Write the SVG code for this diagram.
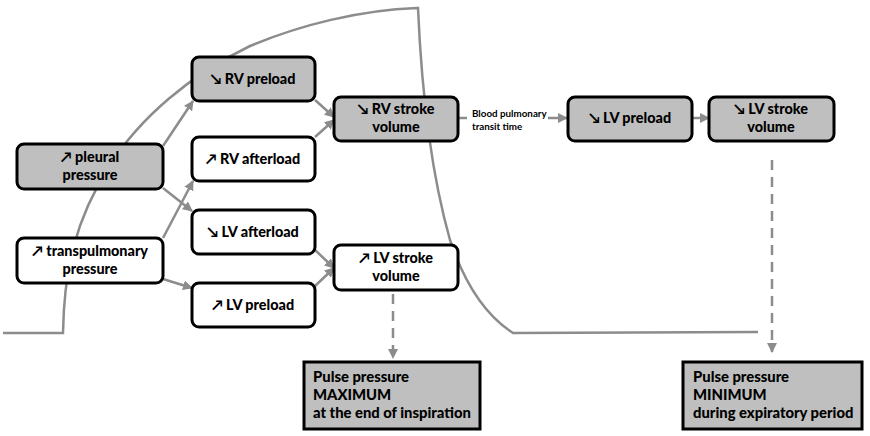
<svg xmlns="http://www.w3.org/2000/svg" width="870" height="436" viewBox="0 0 870 436">
<defs>
<marker id="ah" markerWidth="10" markerHeight="10" refX="9" refY="5" orient="auto" markerUnits="userSpaceOnUse">
<path d="M0,0 L10,5 L0,10 Z" fill="#8c8c8c"/>
</marker>
<style>
.n{stroke:#000;stroke-width:3}
.g{fill:#bfbfbf}
.w{fill:#fff}
.t{font-family:Lato,"Liberation Sans","DejaVu Sans",sans-serif;font-weight:900;font-size:14.4px;fill:#000;text-anchor:middle}
.tl{text-anchor:start;font-size:14.8px}
.c{stroke:#8c8c8c;stroke-width:2.5;fill:none}
.d{stroke-dasharray:10,7}
.small{font-family:Lato,"Liberation Sans",sans-serif;font-weight:bold;font-size:9.8px;fill:#000}
</style>
</defs>
<rect width="870" height="436" fill="#fff"/>
<path class="c" d="M3,333 L63,333 C64,270 75,220 110,165 C140,118 190,75 250,46 C300,25 360,10 417,8 L418,8 C422,100 433,180 450,240 C465,285 485,315 513,333 L758,332"/>
<g id="connectors">
<line class="c" x1="163" y1="146" x2="193" y2="101" marker-end="url(#ah)"/>
<line class="c" x1="163" y1="238" x2="193" y2="181" marker-end="url(#ah)"/>
<line class="c" x1="163" y1="188" x2="192" y2="211" marker-end="url(#ah)"/>
<line class="c" x1="163" y1="279" x2="192" y2="288" marker-end="url(#ah)"/>
<line class="c" x1="315" y1="100" x2="334" y2="117" marker-end="url(#ah)"/>
<line class="c" x1="315" y1="137" x2="334" y2="120" marker-end="url(#ah)"/>
<line class="c" x1="315" y1="250" x2="334" y2="268" marker-end="url(#ah)"/>
<line class="c" x1="315" y1="286" x2="334" y2="268" marker-end="url(#ah)"/>
<line class="c" x1="458" y1="118" x2="467" y2="118"/>
<line class="c" x1="548" y1="118" x2="567" y2="118" marker-end="url(#ah)"/>
<text class="small" x="472" y="117">Blood pulmonary</text>
<text class="small" x="472" y="130">transit time</text>
<line class="c" x1="692" y1="118" x2="709" y2="118" marker-end="url(#ah)"/>
<line class="c d" x1="393" y1="294" x2="393" y2="358" marker-end="url(#ah)"/>
<line class="c d" x1="772" y1="160" x2="772" y2="352" marker-end="url(#ah)"/>
</g>
<g id="pleural"><rect class="n g" x="17" y="144" width="146" height="45" rx="7"/><text class="t" x="90" y="162">↗ pleural</text><text class="t" x="90" y="180">pressure</text></g>
<g id="transpulmonary"><rect class="n w" x="17" y="238" width="146" height="45" rx="7"/><text class="t" x="90" y="256">↗ transpulmonary</text><text class="t" x="90" y="274">pressure</text></g>
<g id="rvpreload"><rect class="n g" x="192" y="57" width="123" height="44" rx="7"/><text class="t" x="253" y="84">↘ RV preload</text></g>
<g id="rvafterload"><rect class="n w" x="192" y="137" width="123" height="44" rx="7"/><text class="t" x="253" y="164">↗ RV afterload</text></g>
<g id="lvafterload"><rect class="n w" x="192" y="210" width="123" height="44" rx="7"/><text class="t" x="253" y="237">↘ LV afterload</text></g>
<g id="lvpreload1"><rect class="n w" x="192" y="283" width="123" height="44" rx="7"/><text class="t" x="253" y="310">↗ LV preload</text></g>
<g id="rvstroke"><rect class="n g" x="334" y="97" width="124" height="44" rx="7"/><text class="t" x="396" y="114">↘ RV stroke</text><text class="t" x="396" y="132">volume</text></g>
<g id="lvstroke1"><rect class="n w" x="334" y="245" width="124" height="45" rx="7"/><text class="t" x="396" y="263">↗ LV stroke</text><text class="t" x="396" y="281">volume</text></g>
<g id="lvpreload2"><rect class="n g" x="568" y="97" width="124" height="44" rx="7"/><text class="t" x="630" y="123">↘ LV preload</text></g>
<g id="lvstroke2"><rect class="n g" x="709" y="97" width="125" height="44" rx="7"/><text class="t" x="771" y="114">↘ LV stroke</text><text class="t" x="771" y="132">volume</text></g>
<g id="ppmax"><rect class="n g" x="304" y="362" width="176" height="67" stroke-width="2.5"/><text class="t tl" x="313" y="382">Pulse pressure</text><text class="t tl" x="313" y="400">MAXIMUM</text><text class="t tl" x="313" y="418">at the end of inspiration</text></g>
<g id="ppmin"><rect class="n g" x="683" y="362" width="179" height="67" stroke-width="2.5"/><text class="t tl" x="693" y="382">Pulse pressure</text><text class="t tl" x="693" y="400">MINIMUM</text><text class="t tl" x="693" y="418">during expiratory period</text></g>
</svg>
